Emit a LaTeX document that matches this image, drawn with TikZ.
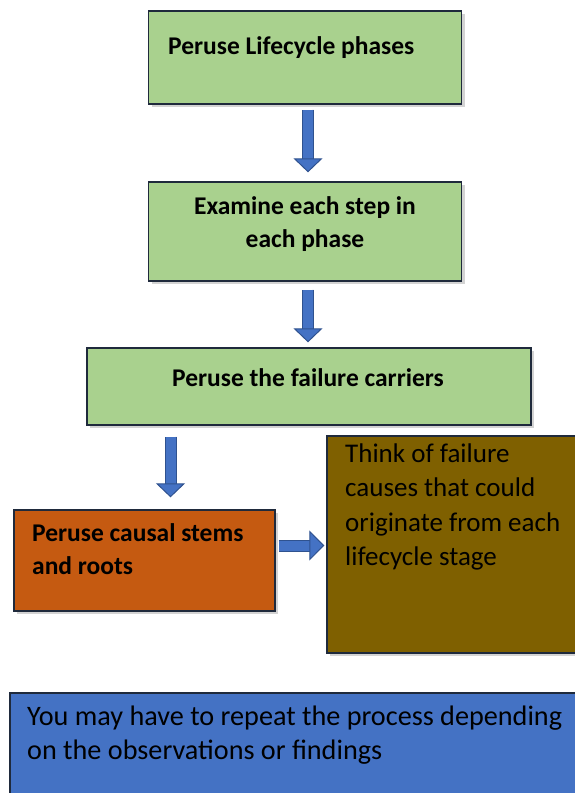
\documentclass[tikz,border=0pt]{standalone}
\usepackage{fontspec}
\setmainfont{Carlito}
\usetikzlibrary{arrows.meta,shadows,positioning}

\definecolor{stepgreen}{HTML}{A9D18E}
\definecolor{stemorange}{HTML}{C55A11}
\definecolor{causebrown}{HTML}{7F6000}
\definecolor{noteblue}{HTML}{4472C4}
\definecolor{arrowblue}{HTML}{4472C4}
\definecolor{arrowedge}{HTML}{2F528F}
\definecolor{boxedge}{HTML}{1F2A3C}

\tikzset{
	box/.style={rectangle, draw=boxedge, line width=1.3pt,
		drop shadow={shadow xshift=3pt, shadow yshift=-3pt, opacity=0.35}},
	flow/.style={draw=arrowedge, line width=1pt, double=arrowblue, double distance=10pt,
		-{Triangle[width=29pt, length=14pt, fill=arrowblue, color=arrowedge, line width=1pt]}},
	boldtxt/.style={inner sep=0pt, font=\fontsize{25.5}{33}\selectfont\bfseries},
	plaintxt/.style={inner sep=0pt, align=left, font=\fontsize{27}{34.5}\selectfont}
}

\begin{document}
\begin{tikzpicture}[x=1pt, y=-1pt]
	\useasboundingbox (0,0) rectangle (575,793);
	\clip (0,0) rectangle (575,793);
	
	% boxes
	\node[box, fill=stepgreen, minimum width=313pt, minimum height=93pt] (lifecycle) at (305,57.5) {};
	\node[box, fill=stepgreen, minimum width=313pt, minimum height=99pt] (steps) at (305,231.5) {};
	\node[box, fill=stepgreen, minimum width=444pt, minimum height=77pt] (carriers) at (309,386.5) {};
	\node[box, fill=stemorange, minimum width=261pt, minimum height=101pt] (stems) at (144.5,560.5) {};
	\node[box, fill=causebrown, minimum width=273pt, minimum height=217pt] (causes) at (463.5,544.5) {};
	\node[box, fill=noteblue, minimum width=590pt, minimum height=110pt] (repeat) at (305,748) {};
	
	% texts
	\node[boldtxt, anchor=west] (lifecycle-txt) at (168,48) {Peruse Lifecycle phases};
	\node[boldtxt, align=center] (steps-txt) at (305,224) {Examine each step in\\each phase};
	\node[boldtxt] (carriers-txt) at (308,378) {Peruse the failure carriers};
	\node[boldtxt, align=left, anchor=west] (stems-txt) at (32,549.5) {Peruse causal stems\\and roots};
	\node[plaintxt, anchor=west] (causes-txt) at (345,507) {Think of failure\\causes that could\\originate from each\\lifecycle stage};
	\node[plaintxt, anchor=west, font=\fontsize{28.2}{34.5}\selectfont] (repeat-txt) at (27,735) {You may have to repeat the process depending\\on the observations or findings};
	
	% arrows
	\draw[flow, shorten <=5pt, shorten >=9pt] ([xshift=3pt]lifecycle.south) -- ([xshift=3pt]steps.north);
	\draw[flow, shorten <=8pt, shorten >=5pt] ([xshift=3pt]steps.south) -- ([xshift=-1pt]carriers.north);
	\draw[flow, shorten <=11pt, shorten >=12pt] ([xshift=26pt]stems.north |- carriers.south) -- ([xshift=26pt]stems.north);
	\draw[flow, shorten <=3pt, shorten >=2pt,
		-{Triangle[width=30pt, length=15pt, fill=arrowblue, color=arrowedge, line width=1pt]}]
		([yshift=15pt]stems.east) -- ([yshift=15pt]stems.east -| causes.west);
\end{tikzpicture}
\end{document}
